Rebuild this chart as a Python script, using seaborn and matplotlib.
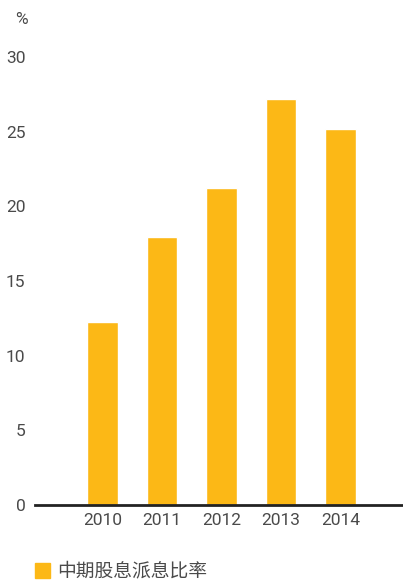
import matplotlib.pyplot as plt
import seaborn as sns
import pandas as pd
from matplotlib.patches import Rectangle

years = ['2010', '2011', '2012', '2013', '2014']
payout = [12.25, 17.95, 21.25, 27.2, 25.15]
series_name = '中期股息派息比率'
yticks = [0, 5, 10, 15, 20, 25, 30]

sns.set_theme(style="white")
plt.rcParams['font.family'] = ['Roboto', 'Noto Sans CJK SC', 'DejaVu Sans']

df = pd.DataFrame({'year': years, 'payout': payout})
bar_color = '#FCB816'
text_color = '#4a4a4a'

fig = plt.figure(figsize=(4.03, 5.81), dpi=100)
ax = fig.add_axes([35 / 403, 76 / 581, 368 / 403, 448 / 581])

sns.barplot(data=df, x='year', y='payout', color=bar_color, width=0.52,
            saturation=1, ax=ax)

ax.set_xlim(-1.134, 5.05)
ax.set_ylim(0, 30)
ax.set_yticks(yticks)
ax.set_xlabel('')
ax.set_ylabel('')
for s in ['left', 'right', 'top']:
    ax.spines[s].set_visible(False)
ax.spines['bottom'].set_color('#222222')
ax.spines['bottom'].set_linewidth(2)
ax.tick_params(axis='both', length=0, labelsize=12.5, labelcolor=text_color)
ax.tick_params(axis='y', pad=7)
ax.tick_params(axis='x', pad=6)

fig.text(21 / 403, 1 - 20 / 581, '%', ha='center', va='center', fontsize=12.5,
         color=text_color)

# legend
fig.patches.append(Rectangle((35 / 403, 1 - 578 / 581), 15 / 403, 15 / 581,
                             transform=fig.transFigure, color=bar_color))
fig.text(57 / 403, 1 - 571 / 581, series_name, ha='left', va='center',
         fontsize=13.5, color=text_color, family=['Noto Sans CJK SC', 'DejaVu Sans'])

fig.savefig('out.png', dpi=100)
